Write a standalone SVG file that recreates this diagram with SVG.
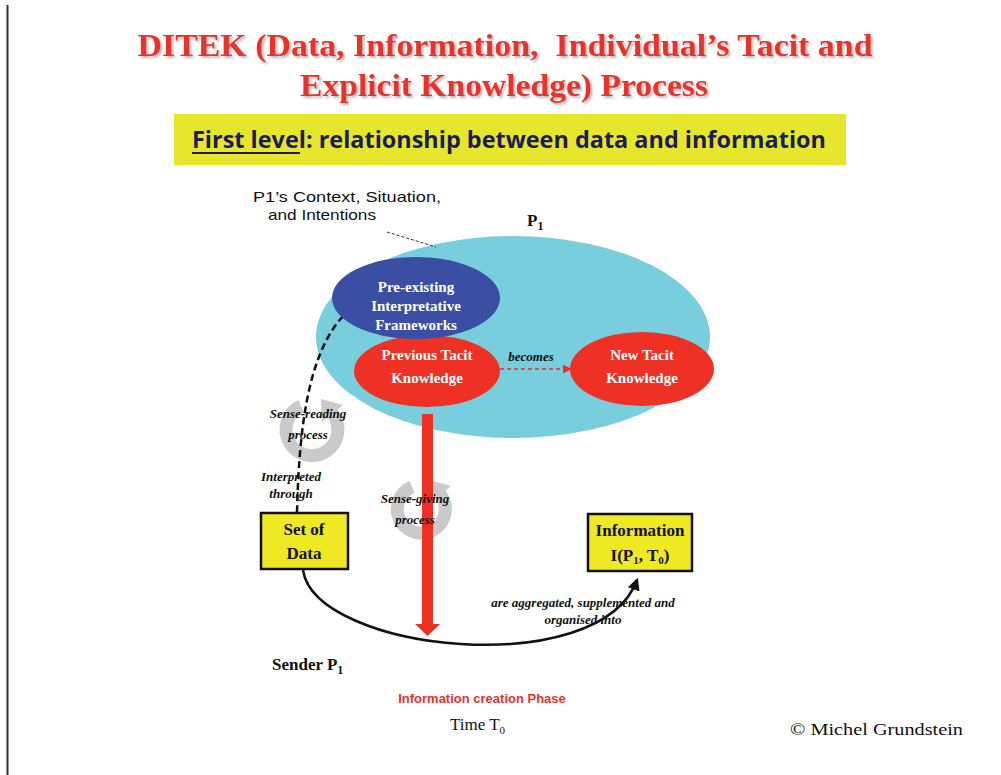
<svg xmlns="http://www.w3.org/2000/svg" width="1001" height="775" viewBox="0 0 1001 775">
  <style>
    .title { font-family: "Liberation Serif", serif; font-weight: bold; font-size: 31px; fill: #E8302A; text-anchor: middle; white-space: pre; }
    .banner { font-family: "Open Sans", "Liberation Sans", sans-serif; font-weight: bold; font-size: 23px; fill: #1C1C5A; }
    .lbl { font-family: "Liberation Sans", sans-serif; font-size: 15px; fill: #111; text-anchor: middle; }
    .node { font-family: "Liberation Serif", serif; font-weight: bold; font-size: 15px; fill: #fff; text-anchor: middle; }
    .box { font-family: "Liberation Serif", serif; font-weight: bold; font-size: 17px; fill: #111; text-anchor: middle; }
    .it { font-family: "Liberation Serif", serif; font-weight: bold; font-style: italic; font-size: 13px; fill: #111; text-anchor: middle; }
    .ser { font-family: "Liberation Serif", serif; font-size: 17px; fill: #111; }
    .cycle { fill: none; stroke: #CACACA; stroke-width: 13; }
    .cyclehead { fill: #CACACA; }
  </style>
  <defs>
    <filter id="shadow" x="-5%" y="-20%" width="110%" height="150%">
      <feDropShadow dx="2" dy="2" stdDeviation="1" flood-color="#888" flood-opacity="0.6"/>
    </filter>
    <marker id="blackHead" viewBox="0 0 10 10" refX="8" refY="5" markerWidth="5" markerHeight="5" orient="auto">
      <path d="M0,0 L10,5 L0,10 z" fill="#111"/>
    </marker>
    <marker id="redHead" viewBox="0 0 10 10" refX="8" refY="5" markerWidth="6" markerHeight="6" orient="auto">
      <path d="M0,0 L10,5 L0,10 z" fill="#E8302A"/>
    </marker>
  </defs>

  <rect width="1001" height="775" fill="#fff"/>
  <!-- left page rule -->
  <line x1="7.5" y1="5" x2="7.5" y2="775" stroke="#333" stroke-width="2"/>

  <!-- heading -->
  <g id="title" filter="url(#shadow)">
    <text class="title" x="505" y="56" textLength="735" lengthAdjust="spacingAndGlyphs">DITEK (Data, Information,  Individual’s Tacit and</text>
    <text class="title" x="504" y="96" textLength="408" lengthAdjust="spacingAndGlyphs">Explicit Knowledge) Process</text>
  </g>

  <g id="level-banner">
    <rect x="174" y="114" width="672" height="51" fill="#E6E62A"/>
    <text class="banner" x="192" y="148" textLength="634" lengthAdjust="spacingAndGlyphs">First level: relationship between data and information</text>
    <line x1="192" y1="153" x2="300" y2="153" stroke="#1C1C5A" stroke-width="2"/>
  </g>

  <!-- context of P1 -->
  <g id="context">
    <ellipse cx="513" cy="337" rx="197" ry="101" fill="#78CEDD"/>
    <text class="lbl" x="347" y="202" textLength="188" lengthAdjust="spacingAndGlyphs">P1’s Context, Situation,</text>
    <text class="lbl" x="322" y="220" textLength="108" lengthAdjust="spacingAndGlyphs">and Intentions</text>
    <line x1="387" y1="232" x2="436" y2="247" stroke="#333" stroke-width="1" stroke-dasharray="3 2"/>
    <text class="ser" x="527" y="226" font-weight="bold" font-size="24">P<tspan font-size="12" dy="4">1</tspan></text>
  </g>

  <!-- cycle symbols -->
  <g id="sense-reading-cycle">
    <path class="cycle" d="M301,406 A26,26 0 1 0 332,413"/>
    <polygon class="cyclehead" points="343,405 321,399 322,422"/>
  </g>
  <g id="sense-giving-cycle">
    <path class="cycle" d="M412,487 A24,24 0 1 0 440,494"/>
    <polygon class="cyclehead" points="451,486 429,480 431,503"/>
  </g>

  <g id="connectors">
    <!-- interpreted through frameworks -->
    <path d="M297,512 C299,440 305,345 352,308" fill="none" stroke="#111" stroke-width="2.5" stroke-dasharray="7 4" marker-end="url(#blackHead)"/>
    <!-- becomes -->
    <line x1="500" y1="369" x2="570" y2="369" stroke="#E8302A" stroke-width="1.5" stroke-dasharray="4 3" marker-end="url(#redHead)"/>
    <!-- sense-giving arrow -->
    <rect x="422" y="414" width="11" height="211" fill="#EE3124"/>
    <polygon points="415,624 440,624 427.5,636" fill="#EE3124"/>
    <!-- aggregation curve -->
    <path d="M303,570 C315,652 600,682 637,580" fill="none" stroke="#111" stroke-width="2.5" marker-end="url(#blackHead)"/>
  </g>

  <g id="previous-tacit">
    <ellipse cx="427" cy="371" rx="73" ry="36" fill="#EE3124"/>
    <text class="node" x="427" y="360">Previous Tacit</text>
    <text class="node" x="427" y="383">Knowledge</text>
  </g>
  <g id="frameworks">
    <ellipse cx="416" cy="298" rx="84" ry="41" fill="#3A4FA3"/>
    <text class="node" x="416" y="292">Pre-existing</text>
    <text class="node" x="416" y="311">Interpretative</text>
    <text class="node" x="416" y="330">Frameworks</text>
  </g>
  <g id="new-tacit">
    <ellipse cx="642" cy="369" rx="72" ry="37" fill="#EE3124"/>
    <text class="node" x="642" y="360">New Tacit</text>
    <text class="node" x="642" y="383">Knowledge</text>
  </g>
  <text class="it" x="531" y="361">becomes</text>

  <g id="process-labels">
    <text class="it" x="308" y="418">Sense-reading</text>
    <text class="it" x="308" y="439">process</text>
    <text class="it" x="291" y="481">Interpreted</text>
    <text class="it" x="291" y="498">through</text>
    <text class="it" x="415" y="503">Sense-giving</text>
    <text class="it" x="415" y="524">process</text>
    <text class="it" x="583" y="607">are aggregated, supplemented and</text>
    <text class="it" x="583" y="624">organised into</text>
  </g>

  <g id="set-of-data">
    <rect x="261" y="513" width="87" height="56" fill="#EFE923" stroke="#111" stroke-width="2.5"/>
    <text class="box" x="304" y="535">Set of</text>
    <text class="box" x="304" y="559">Data</text>
  </g>
  <g id="information">
    <rect x="588" y="514" width="104" height="57" fill="#EFE923" stroke="#111" stroke-width="2.5"/>
    <text class="box" x="640" y="536">Information</text>
    <text class="box" x="640" y="561">I(P<tspan font-size="11" dy="3">1</tspan><tspan dy="-3">, T</tspan><tspan font-size="11" dy="3">0</tspan><tspan dy="-3">)</tspan></text>
  </g>

  <g id="footer">
    <text class="ser" x="272" y="670" font-weight="bold" font-size="18">Sender P<tspan font-size="12" dy="4">1</tspan></text>
    <text x="482" y="703" font-family="Liberation Sans, sans-serif" font-weight="bold" font-size="13" fill="#E8302A" text-anchor="middle">Information creation Phase</text>
    <text class="ser" x="450" y="730">Time T<tspan font-size="11" dy="4">0</tspan></text>
    <text class="ser" x="790" y="735" textLength="173" lengthAdjust="spacingAndGlyphs">© Michel Grundstein</text>
  </g>
</svg>
